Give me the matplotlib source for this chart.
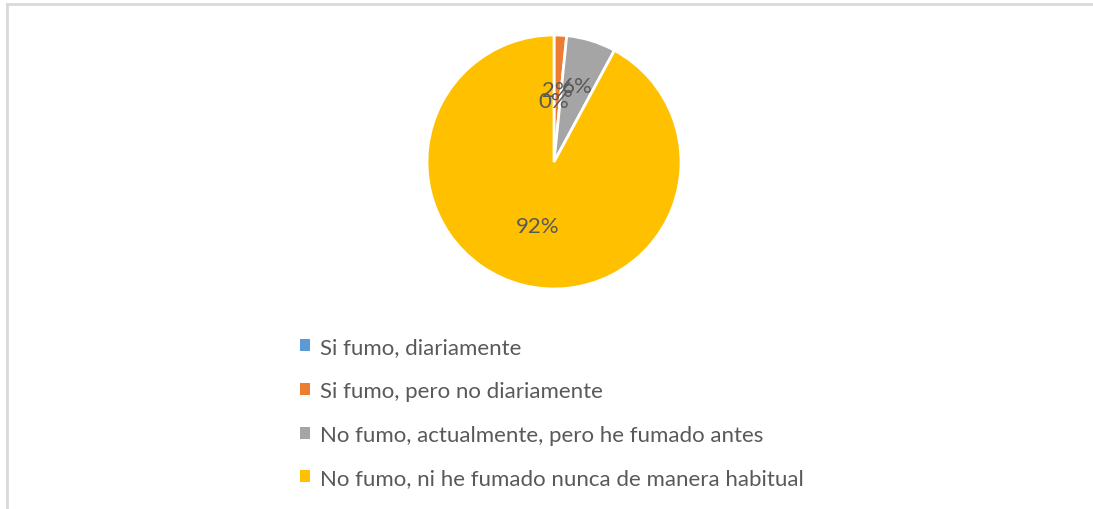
import numpy as np
import matplotlib.pyplot as plt
from matplotlib.patches import Patch
from matplotlib.lines import Line2D

labels = ['Si fumo, diariamente',
          'Si fumo, pero no diariamente',
          'No fumo, actualmente, pero he fumado antes',
          'No fumo, ni he fumado nunca de manera habitual']
values = [0.0, 1.6, 6.3, 92.1]
colors = ['#5B9BD5', '#ED7D31', '#A5A5A5', '#FFC000']
label_radius = [0.48, 0.57, 0.63, 0.52]

plt.rcParams['font.family'] = ['Lato', 'DejaVu Sans']
text_color = '#595959'

fig = plt.figure(figsize=(10.93, 5.10), dpi=100)

# chart frame (left + top only visible)
fig.add_artist(Line2D([6.5/1093, 6.5/1093], [0, 1 - 4.5/510], color='#D9D9D9', lw=2))
fig.add_artist(Line2D([6.5/1093, 1], [1 - 4.5/510, 1 - 4.5/510], color='#D9D9D9', lw=2))

ax = fig.add_axes([427/1093, 220/510, 254/1093, 254/510])
wedges, _ = ax.pie(values, colors=colors, startangle=90, counterclock=False,
                   wedgeprops=dict(edgecolor='white', linewidth=2))
ax.set_xlim(-1, 1)
ax.set_ylim(-1, 1)
ax.set_aspect('equal')

total = sum(values)
for w, v, r in zip(wedges, values, label_radius):
    ang = np.deg2rad((w.theta1 + w.theta2) / 2)
    ax.text(r * np.cos(ang), r * np.sin(ang), f'{v / total * 100:.0f}%',
            ha='center', va='center', fontsize=16, color=text_color)

handles = [Patch(facecolor=c, edgecolor='none') for c in colors]
fig.legend(handles, labels, loc='upper left', bbox_to_anchor=(280/1093, 1 - 318/510),
           frameon=False, fontsize=16, labelcolor=text_color,
           handlelength=0.45, handleheight=0.45, handletextpad=0.45,
           labelspacing=1.07)

fig.savefig('out.png', dpi=100)
